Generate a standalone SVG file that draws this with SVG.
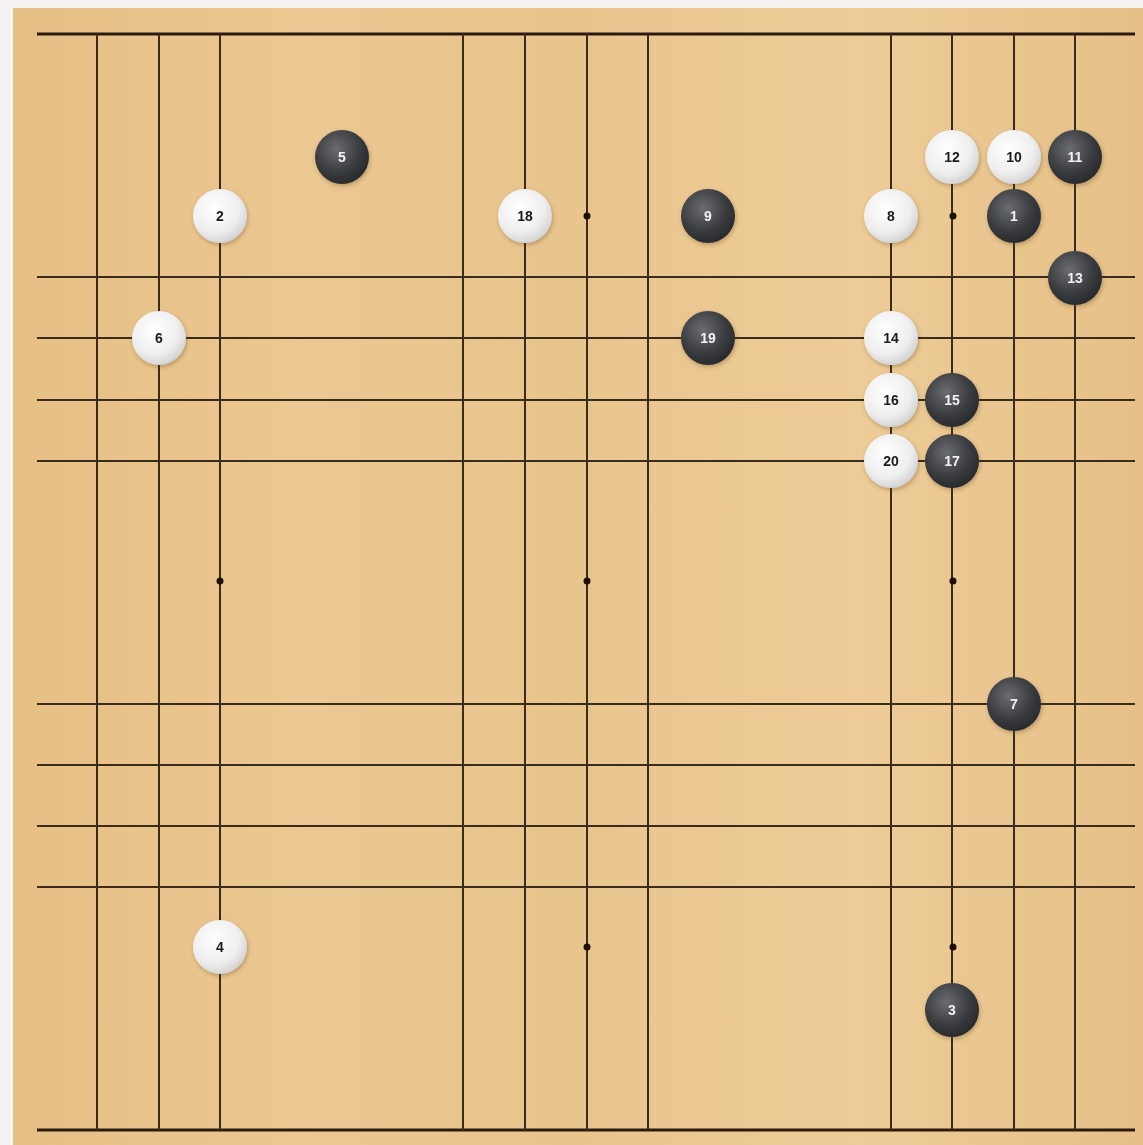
<svg xmlns="http://www.w3.org/2000/svg" width="1143" height="1145" viewBox="0 0 1143 1145">
<style>
.ln{stroke:#3b2b1c;stroke-width:2;fill:none}
.edge{stroke:#2a1a10;stroke-width:3}
.star{fill:#1a1108}
.b circle{fill:url(#gb)}
.w circle{fill:url(#gw)}
.b text{fill:#f2f2f2}
.w text{fill:#1a1a1a}
text{font-family:"Liberation Sans",Arial,sans-serif;font-size:14px;font-weight:bold;text-anchor:middle;dominant-baseline:central}
</style>
<defs>
<radialGradient id="gb" cx="0.4" cy="0.35" r="0.7">
<stop offset="0" stop-color="#6a6d70"/>
<stop offset="0.6" stop-color="#3a3d40"/>
<stop offset="1" stop-color="#26282a"/>
</radialGradient>
<radialGradient id="gw" cx="0.4" cy="0.35" r="0.7">
<stop offset="0" stop-color="#ffffff"/>
<stop offset="0.65" stop-color="#eeeeee"/>
<stop offset="1" stop-color="#cfcfcf"/>
</radialGradient>
<linearGradient id="wood" x1="0" y1="0" x2="1" y2="0">
<stop offset="0" stop-color="#e6bf85"/>
<stop offset="0.25" stop-color="#ebc891"/>
<stop offset="0.5" stop-color="#e9c58e"/>
<stop offset="0.75" stop-color="#edcc97"/>
<stop offset="1" stop-color="#e6c088"/>
</linearGradient>
<filter id="sh" x="-30%" y="-30%" width="160%" height="160%">
<feDropShadow dx="1" dy="2" stdDeviation="2" flood-color="#5a3c18" flood-opacity="0.35"/>
</filter>
</defs>
<rect width="1143" height="1145" fill="#f5f3f1"/>
<rect x="13" y="8" width="1130" height="1137" fill="url(#wood)"/>
<g id="grid">
<line class="edge" x1="37" y1="34" x2="1135" y2="34"/>
<line class="edge" x1="37" y1="1130" x2="1135" y2="1130"/>
<line class="ln" x1="37" y1="277" x2="1135" y2="277"/>
<line class="ln" x1="37" y1="338" x2="1135" y2="338"/>
<line class="ln" x1="37" y1="400" x2="1135" y2="400"/>
<line class="ln" x1="37" y1="461" x2="1135" y2="461"/>
<line class="ln" x1="37" y1="704" x2="1135" y2="704"/>
<line class="ln" x1="37" y1="765" x2="1135" y2="765"/>
<line class="ln" x1="37" y1="826" x2="1135" y2="826"/>
<line class="ln" x1="37" y1="887" x2="1135" y2="887"/>
<line class="ln" x1="97" y1="34" x2="97" y2="1130"/>
<line class="ln" x1="159" y1="34" x2="159" y2="1130"/>
<line class="ln" x1="220" y1="34" x2="220" y2="1130"/>
<line class="ln" x1="463" y1="34" x2="463" y2="1130"/>
<line class="ln" x1="525" y1="34" x2="525" y2="1130"/>
<line class="ln" x1="587" y1="34" x2="587" y2="1130"/>
<line class="ln" x1="648" y1="34" x2="648" y2="1130"/>
<line class="ln" x1="891" y1="34" x2="891" y2="1130"/>
<line class="ln" x1="952" y1="34" x2="952" y2="1130"/>
<line class="ln" x1="1014" y1="34" x2="1014" y2="1130"/>
<line class="ln" x1="1075" y1="34" x2="1075" y2="1130"/>
<circle class="star" cx="587" cy="216" r="3.5"/>
<circle class="star" cx="953" cy="216" r="3.5"/>
<circle class="star" cx="220" cy="581" r="3.5"/>
<circle class="star" cx="587" cy="581" r="3.5"/>
<circle class="star" cx="953" cy="581" r="3.5"/>
<circle class="star" cx="587" cy="947" r="3.5"/>
<circle class="star" cx="953" cy="947" r="3.5"/>
</g>
<g id="s1" class="b" filter="url(#sh)"><circle cx="1014" cy="216" r="27"/><text x="1014" y="216">1</text></g>
<g id="s2" class="w" filter="url(#sh)"><circle cx="220" cy="216" r="27"/><text x="220" y="216">2</text></g>
<g id="s3" class="b" filter="url(#sh)"><circle cx="952" cy="1010" r="27"/><text x="952" y="1010">3</text></g>
<g id="s4" class="w" filter="url(#sh)"><circle cx="220" cy="947" r="27"/><text x="220" y="947">4</text></g>
<g id="s5" class="b" filter="url(#sh)"><circle cx="342" cy="157" r="27"/><text x="342" y="157">5</text></g>
<g id="s6" class="w" filter="url(#sh)"><circle cx="159" cy="338" r="27"/><text x="159" y="338">6</text></g>
<g id="s7" class="b" filter="url(#sh)"><circle cx="1014" cy="704" r="27"/><text x="1014" y="704">7</text></g>
<g id="s8" class="w" filter="url(#sh)"><circle cx="891" cy="216" r="27"/><text x="891" y="216">8</text></g>
<g id="s9" class="b" filter="url(#sh)"><circle cx="708" cy="216" r="27"/><text x="708" y="216">9</text></g>
<g id="s10" class="w" filter="url(#sh)"><circle cx="1014" cy="157" r="27"/><text x="1014" y="157">10</text></g>
<g id="s11" class="b" filter="url(#sh)"><circle cx="1075" cy="157" r="27"/><text x="1075" y="157">11</text></g>
<g id="s12" class="w" filter="url(#sh)"><circle cx="952" cy="157" r="27"/><text x="952" y="157">12</text></g>
<g id="s13" class="b" filter="url(#sh)"><circle cx="1075" cy="278" r="27"/><text x="1075" y="278">13</text></g>
<g id="s14" class="w" filter="url(#sh)"><circle cx="891" cy="338" r="27"/><text x="891" y="338">14</text></g>
<g id="s15" class="b" filter="url(#sh)"><circle cx="952" cy="400" r="27"/><text x="952" y="400">15</text></g>
<g id="s16" class="w" filter="url(#sh)"><circle cx="891" cy="400" r="27"/><text x="891" y="400">16</text></g>
<g id="s17" class="b" filter="url(#sh)"><circle cx="952" cy="461" r="27"/><text x="952" y="461">17</text></g>
<g id="s18" class="w" filter="url(#sh)"><circle cx="525" cy="216" r="27"/><text x="525" y="216">18</text></g>
<g id="s19" class="b" filter="url(#sh)"><circle cx="708" cy="338" r="27"/><text x="708" y="338">19</text></g>
<g id="s20" class="w" filter="url(#sh)"><circle cx="891" cy="461" r="27"/><text x="891" y="461">20</text></g>
</svg>
